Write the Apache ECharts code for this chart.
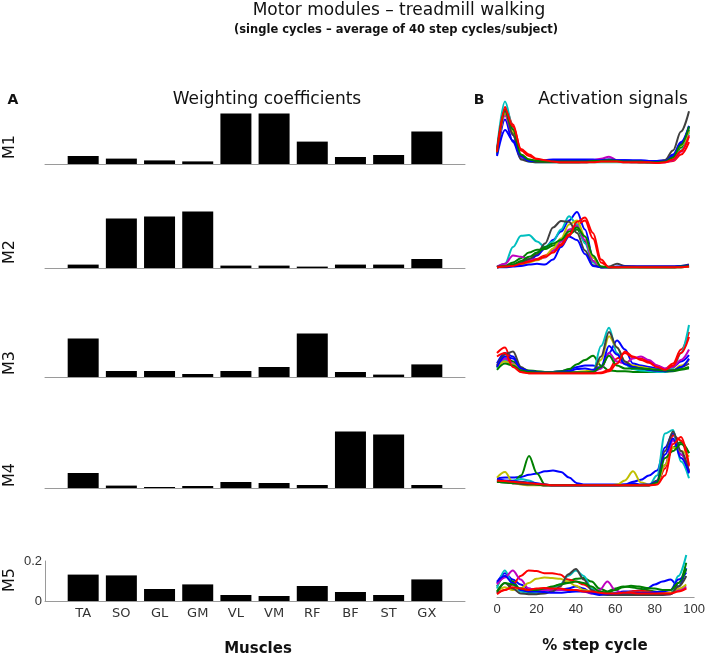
<!DOCTYPE html>
<html>
<head>
<meta charset="utf-8">
<script src="https://cdn.jsdelivr.net/npm/echarts@6/dist/echarts.min.js"></script>
<style>
  html, body { margin: 0; padding: 0; background: #fff; }
  #chart { width: 708px; height: 659px; }
</style>
</head>
<body>
<div id="chart"></div>
<script>
// Motor modules: weighting coefficients (bars) + activation signals (lines per subject)

const MUSCLES = ["TA", "SO", "GL", "GM", "VL", "VM", "RF", "BF", "ST", "GX"];
const MODULES = ["M1", "M2", "M3", "M4", "M5"];

// weighting coefficients, one array per module
const W_M1 = [0.040, 0.027, 0.018, 0.013, 0.253, 0.253, 0.112, 0.035, 0.045, 0.162];
const W_M2 = [0.017, 0.248, 0.257, 0.282, 0.012, 0.012, 0.007, 0.017, 0.017, 0.045];
const W_M3 = [0.193, 0.030, 0.030, 0.015, 0.030, 0.050, 0.217, 0.025, 0.012, 0.063];
const W_M4 = [0.075, 0.012, 0.005, 0.010, 0.030, 0.025, 0.015, 0.282, 0.268, 0.015];
const W_M5 = [0.132, 0.128, 0.060, 0.083, 0.030, 0.025, 0.075, 0.045, 0.030, 0.108];

// % step cycle sample points
const STEP = [0, 4, 8, 12, 16, 20, 24, 28, 32, 36, 40, 44, 48, 52, 56, 60, 64, 68, 72, 76, 80, 84, 88, 92, 96];

// subject colours (matlab colour order)
const SUBJ_COLORS = ["#0000ff", "#008000", "#ff0000", "#00bfbf", "#bf00bf", "#bfbf00", "#404040", "#0000ff", "#008000", "#ff0000"];

// activation signals, 10 subjects per module
const A_M1 = [
  [0.12,0.62,0.30,0.06,0.03,0.03,0.04,0.05,0.05,0.05,0.05,0.05,0.05,0.04,0.04,0.04,0.04,0.03,0.03,0.03,0.03,0.04,0.12,0.30,0.53],
  [0.16,0.70,0.42,0.10,0.04,0.02,0.02,0.02,0.01,0.01,0.01,0.02,0.02,0.02,0.03,0.02,0.02,0.02,0.01,0.01,0.01,0.02,0.06,0.22,0.48],
  [0.18,0.80,0.55,0.18,0.10,0.05,0.03,0.02,0.01,0.01,0.01,0.01,0.02,0.02,0.02,0.02,0.01,0.01,0.01,0.01,0.01,0.01,0.03,0.12,0.30],
  [0.20,0.88,0.50,0.08,0.02,0.01,0.01,0.01,0.01,0.01,0.01,0.01,0.01,0.01,0.01,0.01,0.01,0.01,0.01,0.01,0.01,0.02,0.05,0.18,0.44],
  [0.14,0.68,0.40,0.09,0.03,0.02,0.02,0.02,0.02,0.02,0.02,0.03,0.04,0.06,0.09,0.04,0.02,0.02,0.01,0.01,0.01,0.01,0.04,0.16,0.40],
  [0.15,0.71,0.45,0.12,0.05,0.03,0.02,0.02,0.02,0.02,0.02,0.02,0.02,0.02,0.02,0.02,0.02,0.02,0.01,0.01,0.01,0.02,0.08,0.25,0.46],
  [0.17,0.74,0.40,0.05,0.02,0.01,0.01,0.01,0.01,0.01,0.01,0.01,0.02,0.03,0.05,0.03,0.02,0.01,0.01,0.01,0.01,0.04,0.18,0.45,0.74],
  [0.10,0.47,0.32,0.10,0.03,0.03,0.03,0.03,0.03,0.03,0.04,0.04,0.04,0.04,0.05,0.04,0.04,0.04,0.04,0.03,0.02,0.03,0.10,0.28,0.52],
  [0.15,0.76,0.48,0.12,0.05,0.03,0.02,0.02,0.02,0.02,0.02,0.02,0.03,0.03,0.04,0.03,0.02,0.02,0.02,0.01,0.01,0.02,0.08,0.26,0.52],
  [0.16,0.77,0.52,0.20,0.12,0.06,0.04,0.02,0.01,0.01,0.01,0.01,0.01,0.02,0.02,0.02,0.01,0.01,0.01,0.01,0.00,0.01,0.05,0.17,0.38]
];
const A_M2 = [
  [0.01,0.02,0.04,0.06,0.10,0.18,0.28,0.40,0.52,0.68,0.80,0.55,0.15,0.01,0.01,0.01,0.01,0.01,0.01,0.01,0.01,0.01,0.01,0.02,0.03],
  [0.01,0.03,0.08,0.14,0.22,0.26,0.27,0.32,0.38,0.48,0.55,0.38,0.10,0.01,0.01,0.01,0.01,0.01,0.01,0.01,0.01,0.01,0.01,0.01,0.02],
  [0.01,0.02,0.04,0.07,0.10,0.13,0.18,0.25,0.34,0.48,0.62,0.68,0.42,0.08,0.01,0.01,0.02,0.02,0.01,0.01,0.01,0.01,0.01,0.02,0.03],
  [0.01,0.06,0.30,0.46,0.47,0.38,0.30,0.38,0.55,0.74,0.62,0.35,0.08,0.01,0.01,0.01,0.01,0.01,0.01,0.01,0.01,0.01,0.01,0.01,0.02],
  [0.02,0.06,0.18,0.16,0.12,0.12,0.15,0.25,0.38,0.55,0.60,0.40,0.10,0.01,0.01,0.01,0.02,0.02,0.02,0.02,0.02,0.02,0.02,0.02,0.02],
  [0.01,0.02,0.04,0.05,0.08,0.11,0.16,0.28,0.42,0.62,0.68,0.45,0.15,0.02,0.01,0.01,0.01,0.01,0.01,0.01,0.01,0.01,0.01,0.01,0.02],
  [0.02,0.03,0.05,0.08,0.13,0.20,0.35,0.58,0.67,0.66,0.50,0.25,0.04,0.01,0.02,0.06,0.03,0.02,0.02,0.02,0.02,0.02,0.02,0.03,0.05],
  [0.01,0.01,0.02,0.03,0.05,0.06,0.05,0.12,0.30,0.45,0.40,0.20,0.03,0.01,0.01,0.02,0.02,0.02,0.02,0.02,0.02,0.02,0.02,0.03,0.04],
  [0.01,0.02,0.05,0.10,0.16,0.22,0.30,0.35,0.40,0.52,0.58,0.45,0.18,0.02,0.01,0.01,0.01,0.01,0.01,0.01,0.01,0.01,0.01,0.02,0.03],
  [0.01,0.02,0.03,0.06,0.09,0.12,0.16,0.22,0.32,0.46,0.66,0.72,0.50,0.12,0.01,0.01,0.01,0.01,0.01,0.01,0.01,0.01,0.01,0.01,0.02]
];
const A_M3 = [
  [0.15,0.30,0.25,0.08,0.04,0.03,0.03,0.03,0.04,0.06,0.10,0.12,0.12,0.08,0.30,0.48,0.35,0.15,0.12,0.10,0.08,0.06,0.10,0.18,0.27],
  [0.10,0.22,0.18,0.08,0.05,0.04,0.03,0.03,0.04,0.07,0.14,0.20,0.26,0.12,0.05,0.04,0.04,0.03,0.03,0.03,0.03,0.03,0.04,0.06,0.08],
  [0.30,0.38,0.12,0.03,0.01,0.01,0.01,0.01,0.01,0.01,0.01,0.01,0.01,0.02,0.06,0.22,0.30,0.24,0.22,0.18,0.12,0.07,0.15,0.35,0.60],
  [0.08,0.20,0.12,0.04,0.02,0.02,0.02,0.02,0.02,0.02,0.02,0.02,0.03,0.40,0.66,0.30,0.14,0.07,0.05,0.04,0.03,0.03,0.08,0.30,0.70],
  [0.12,0.22,0.15,0.05,0.02,0.02,0.02,0.02,0.02,0.02,0.02,0.02,0.03,0.08,0.30,0.18,0.15,0.22,0.25,0.20,0.12,0.08,0.10,0.20,0.35],
  [0.10,0.18,0.14,0.05,0.03,0.02,0.02,0.02,0.02,0.02,0.03,0.04,0.05,0.20,0.54,0.38,0.18,0.12,0.10,0.08,0.06,0.05,0.06,0.12,0.20],
  [0.12,0.28,0.32,0.10,0.03,0.02,0.02,0.02,0.02,0.02,0.02,0.02,0.03,0.25,0.60,0.38,0.18,0.10,0.08,0.06,0.05,0.04,0.05,0.10,0.15],
  [0.10,0.25,0.22,0.08,0.04,0.03,0.02,0.02,0.03,0.04,0.07,0.08,0.06,0.10,0.40,0.28,0.14,0.10,0.08,0.06,0.05,0.04,0.05,0.10,0.22],
  [0.06,0.15,0.12,0.05,0.03,0.02,0.02,0.02,0.02,0.02,0.02,0.02,0.03,0.10,0.26,0.12,0.08,0.08,0.08,0.07,0.06,0.05,0.05,0.07,0.10],
  [0.25,0.30,0.10,0.03,0.01,0.01,0.01,0.01,0.01,0.01,0.01,0.01,0.01,0.01,0.04,0.15,0.32,0.25,0.20,0.16,0.10,0.06,0.12,0.30,0.53]
];
const A_M4 = [
  [0.11,0.12,0.12,0.13,0.16,0.18,0.21,0.22,0.20,0.12,0.04,0.02,0.02,0.02,0.02,0.02,0.02,0.06,0.09,0.15,0.22,0.55,0.75,0.45,0.20],
  [0.08,0.06,0.05,0.15,0.43,0.18,0.02,0.01,0.01,0.01,0.01,0.01,0.01,0.01,0.01,0.01,0.01,0.01,0.01,0.01,0.03,0.30,0.55,0.63,0.47],
  [0.07,0.06,0.04,0.03,0.02,0.02,0.01,0.01,0.01,0.01,0.01,0.01,0.01,0.01,0.01,0.01,0.01,0.01,0.01,0.01,0.03,0.25,0.72,0.65,0.28],
  [0.09,0.07,0.08,0.10,0.08,0.03,0.01,0.01,0.01,0.01,0.01,0.01,0.01,0.01,0.01,0.01,0.01,0.01,0.01,0.01,0.15,0.75,0.80,0.35,0.11],
  [0.07,0.06,0.05,0.04,0.03,0.02,0.01,0.01,0.01,0.01,0.01,0.01,0.01,0.01,0.01,0.01,0.01,0.01,0.01,0.01,0.05,0.30,0.65,0.45,0.22],
  [0.12,0.20,0.05,0.02,0.01,0.01,0.01,0.01,0.01,0.01,0.01,0.01,0.01,0.01,0.01,0.02,0.08,0.21,0.05,0.02,0.04,0.30,0.55,0.50,0.42],
  [0.06,0.05,0.04,0.03,0.02,0.02,0.01,0.01,0.01,0.01,0.01,0.01,0.01,0.01,0.01,0.01,0.01,0.01,0.01,0.01,0.08,0.50,0.78,0.50,0.20],
  [0.10,0.08,0.07,0.06,0.05,0.04,0.02,0.01,0.01,0.01,0.01,0.01,0.01,0.01,0.01,0.01,0.02,0.04,0.02,0.02,0.06,0.45,0.68,0.40,0.18],
  [0.06,0.05,0.04,0.05,0.04,0.02,0.01,0.01,0.01,0.01,0.01,0.01,0.01,0.01,0.01,0.01,0.01,0.01,0.01,0.01,0.05,0.40,0.50,0.60,0.47],
  [0.08,0.07,0.06,0.05,0.04,0.03,0.02,0.01,0.01,0.01,0.01,0.01,0.01,0.01,0.01,0.01,0.01,0.01,0.01,0.01,0.02,0.15,0.60,0.70,0.30]
];
const A_M5 = [
  [0.20,0.34,0.25,0.18,0.12,0.10,0.10,0.09,0.10,0.12,0.15,0.12,0.05,0.03,0.04,0.06,0.08,0.08,0.09,0.12,0.18,0.22,0.25,0.15,0.41],
  [0.15,0.30,0.22,0.10,0.06,0.08,0.10,0.14,0.18,0.22,0.26,0.27,0.22,0.12,0.08,0.12,0.15,0.14,0.12,0.10,0.08,0.06,0.05,0.20,0.49],
  [0.05,0.10,0.18,0.30,0.38,0.37,0.34,0.34,0.32,0.25,0.22,0.18,0.12,0.08,0.05,0.04,0.05,0.08,0.09,0.08,0.07,0.06,0.06,0.10,0.13],
  [0.12,0.38,0.18,0.08,0.05,0.06,0.08,0.12,0.18,0.30,0.38,0.30,0.12,0.05,0.03,0.03,0.04,0.05,0.05,0.04,0.04,0.04,0.05,0.30,0.60],
  [0.18,0.28,0.38,0.25,0.12,0.10,0.10,0.10,0.10,0.10,0.10,0.08,0.05,0.10,0.22,0.10,0.05,0.05,0.05,0.04,0.04,0.03,0.04,0.10,0.15],
  [0.08,0.14,0.10,0.12,0.20,0.26,0.28,0.27,0.26,0.22,0.16,0.10,0.08,0.06,0.05,0.05,0.06,0.06,0.06,0.06,0.06,0.05,0.06,0.12,0.18],
  [0.06,0.20,0.12,0.05,0.04,0.04,0.05,0.08,0.15,0.32,0.40,0.25,0.10,0.04,0.03,0.03,0.03,0.03,0.03,0.03,0.03,0.03,0.04,0.15,0.30],
  [0.22,0.30,0.20,0.10,0.08,0.08,0.07,0.06,0.06,0.07,0.08,0.08,0.06,0.04,0.04,0.05,0.06,0.06,0.06,0.06,0.07,0.08,0.10,0.25,0.35],
  [0.08,0.20,0.18,0.12,0.10,0.10,0.12,0.15,0.18,0.20,0.22,0.20,0.15,0.08,0.06,0.10,0.14,0.16,0.15,0.13,0.12,0.10,0.10,0.20,0.40],
  [0.04,0.10,0.14,0.12,0.10,0.12,0.13,0.12,0.12,0.10,0.10,0.08,0.08,0.06,0.05,0.05,0.06,0.06,0.05,0.05,0.05,0.05,0.05,0.08,0.12]
];

const WEIGHTS = [W_M1, W_M2, W_M3, W_M4, W_M5];
const ACTIVATIONS = [A_M1, A_M2, A_M3, A_M4, A_M5];

// layout (px)
const BAR_BASE = [164, 268, 377, 488, 601];
const LINE_BASE = [163, 268, 374, 486, 597];
const LABEL_Y = [147, 252, 363, 475, 580];

const chart = echarts.init(document.getElementById("chart"));

const grids = [], xAxes = [], yAxes = [], series = [];
const axisGray = "#9a9a9a";
const FONT = "DejaVu Sans";

MODULES.forEach((m, i) => {
  const last = i === MODULES.length - 1;
  const h = last ? 40 : 60;
  grids.push({ left: 45, width: 420, top: BAR_BASE[i] - h, height: h });
  xAxes.push({
    type: "value", gridIndex: i, min: 0, max: 11, interval: 1,
    axisLine: { show: true, onZero: false, lineStyle: { color: axisGray, width: 1 } },
    axisTick: { show: false }, splitLine: { show: false },
    axisLabel: {
      show: last, margin: 6, color: "#333", fontFamily: FONT, fontSize: 13,
      formatter: (v) => MUSCLES[v - 1] || ""
    }
  });
  yAxes.push({
    type: "value", gridIndex: i, min: 0, max: last ? 0.2 : 0.3, interval: last ? 0.2 : 0.3,
    axisLine: { show: last, lineStyle: { color: axisGray, width: 1 } },
    axisTick: { show: false }, splitLine: { show: false },
    axisLabel: { show: last, margin: 3, color: "#333", fontFamily: "Liberation Sans", fontSize: 13 }
  });
  series.push({
    type: "bar", xAxisIndex: i, yAxisIndex: i, barWidth: 31,
    itemStyle: { color: "#000" },
    data: WEIGHTS[i].map((v, k) => [k + 1, v]),
    silent: true
  });
});

MODULES.forEach((m, i) => {
  const last = i === MODULES.length - 1;
  const gi = MODULES.length + i;
  grids.push({ left: 497, width: 200, top: LINE_BASE[i] - 70, height: 70 });
  xAxes.push({
    type: "value", gridIndex: gi, min: 0, max: 100, interval: 20,
    axisLine: { show: last, onZero: false, lineStyle: { color: axisGray, width: 1 } },
    axisTick: { show: false }, splitLine: { show: false },
    axisLabel: { show: last, margin: 6, color: "#333", fontFamily: "Liberation Sans", fontSize: 13 }
  });
  yAxes.push({
    type: "value", gridIndex: gi, min: 0, max: 1, show: false
  });
  ACTIVATIONS[i].forEach((arr, s) => {
    series.push({
      type: "line", xAxisIndex: gi, yAxisIndex: gi,
      smooth: 0.35, smoothMonotone: "x", showSymbol: false, silent: true,
      lineStyle: { color: SUBJ_COLORS[s], width: 2 },
      data: STEP.map((x, j) => [x, arr[j]])
    });
  });
});

const txt = (text, x, y, font, extra) => Object.assign({
  type: "text", x: x, y: y,
  style: { text: text, font: font, fill: "#111", align: "center", verticalAlign: "middle" }
}, extra || {});

const graphics = [
  txt("Motor modules \u2013 treadmill walking", 399, 11, "17px 'DejaVu Sans'"),
  txt("(single cycles \u2013 average of 40 step cycles/subject)", 396, 30, "bold 11.5px 'DejaVu Sans'"),
  txt("A", 13, 100, "bold 14px 'DejaVu Sans'"),
  txt("Weighting coefficients", 267, 100, "17px 'DejaVu Sans'"),
  txt("B", 479, 100, "bold 14px 'DejaVu Sans'"),
  txt("Activation signals", 613, 100, "17px 'DejaVu Sans'"),
  txt("Muscles", 258, 649, "bold 15px 'DejaVu Sans'"),
  txt("% step cycle", 595, 646, "bold 15px 'DejaVu Sans'")
];
MODULES.forEach((m, i) => {
  graphics.push(txt(m, 10, LABEL_Y[i], "16px 'DejaVu Sans'", { rotation: Math.PI / 2 }));
});

chart.setOption({
  backgroundColor: "#fff",
  animation: false,
  grid: grids,
  xAxis: xAxes,
  yAxis: yAxes,
  series: series,
  graphic: graphics
});
</script>
</body>
</html>
